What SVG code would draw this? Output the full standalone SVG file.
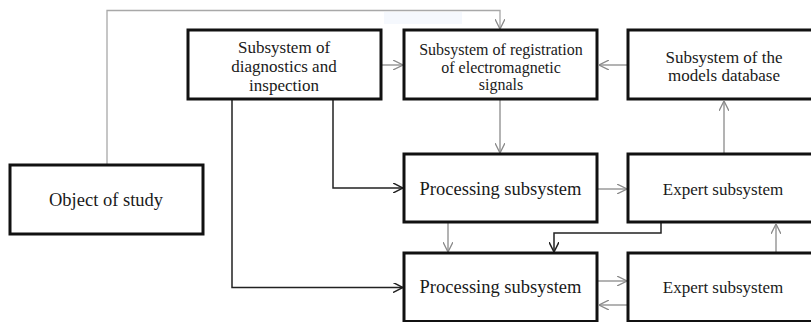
<svg xmlns="http://www.w3.org/2000/svg" width="811" height="322" viewBox="0 0 811 322">
  <style>
    .box { fill: #ffffff; stroke: #111111; stroke-width: 3; }
    .lbl { font-family: "Liberation Serif", "Times New Roman", serif; fill: #1a1a1a; text-anchor: middle; }
    .big { font-size: 18.5px; }
    .mid { font-size: 17px; }
    .sm { font-size: 16px; }
    .thin { fill: none; stroke: #8a8a8a; stroke-width: 1.3; }
    .faint { fill: none; stroke: #a8a8a8; stroke-width: 1.3; }
    .dark { fill: none; stroke: #222222; stroke-width: 1.5; }
  </style>
  <defs>
    <marker id="arrGray" viewBox="0 0 10 10" refX="10" refY="5" markerWidth="10" markerHeight="10" markerUnits="userSpaceOnUse" orient="auto">
      <path d="M0,0 L10,5 L0,10" fill="none" stroke="#8a8a8a" stroke-width="1.3"/>
    </marker>
    <marker id="arrDark" viewBox="0 0 10 10" refX="10" refY="5" markerWidth="10" markerHeight="10" markerUnits="userSpaceOnUse" orient="auto">
      <path d="M0,0 L10,5 L0,10" fill="none" stroke="#222222" stroke-width="1.5"/>
    </marker>
  </defs>

  <rect width="811" height="322" fill="#ffffff"/>

  <!-- faint highlight band near the top line -->
  <rect x="384" y="12" width="78" height="12" fill="#f5f8fd"/>

  <g id="connectors">
    <!-- object of study feeds the registration subsystem -->
    <path class="faint" d="M107,165 L107,10.5 L500,10.5 L500,29" marker-end="url(#arrGray)"/>
    <!-- diagnostics to registration -->
    <path class="thin" d="M382,65 L403,65" marker-end="url(#arrGray)"/>
    <!-- models database to registration -->
    <path class="thin" d="M627,65 L599,65" marker-end="url(#arrGray)"/>
    <!-- registration to processing -->
    <path class="thin" d="M500,100 L500,153" marker-end="url(#arrGray)"/>
    <!-- expert to models database -->
    <path class="thin" d="M724,153 L724,101" marker-end="url(#arrGray)"/>
    <!-- diagnostics to both processing subsystems -->
    <path class="dark" d="M333,100 L333,188 L403,188" marker-end="url(#arrDark)"/>
    <path class="dark" d="M232,100 L232,287.5 L403,287.5" marker-end="url(#arrDark)"/>
    <!-- processing to expert -->
    <path class="thin" d="M598,189 L627,189" marker-end="url(#arrGray)"/>
    <!-- processing to processing -->
    <path class="thin" d="M448,223 L448,252" marker-end="url(#arrGray)"/>
    <!-- expert back to lower processing -->
    <path class="dark" d="M661,223 L661,233 L554,233 L554,252" marker-end="url(#arrDark)"/>
    <!-- lower processing and lower expert exchange -->
    <path class="thin" d="M598,281 L627,281" marker-end="url(#arrGray)"/>
    <path class="thin" d="M627,305 L599,305" marker-end="url(#arrGray)"/>
    <!-- lower expert to upper expert -->
    <path class="thin" d="M776,252 L776,224" marker-end="url(#arrGray)"/>
  </g>

  <g id="diagnostics">
    <rect class="box" x="188" y="30" width="193" height="69"/>
    <text class="lbl mid" x="284" y="53">Subsystem of</text>
    <text class="lbl mid" x="284" y="72">diagnostics and</text>
    <text class="lbl mid" x="284" y="91">inspection</text>
  </g>

  <g id="registration">
    <rect class="box" x="404" y="30" width="193" height="69"/>
    <text class="lbl sm" x="501" y="55">Subsystem  of registration</text>
    <text class="lbl sm" x="501" y="72.5">of electromagnetic</text>
    <text class="lbl sm" x="501" y="90">signals</text>
  </g>

  <g id="models-database">
    <rect class="box" x="628" y="30" width="200" height="69"/>
    <text class="lbl mid" x="724" y="63">Subsystem of the</text>
    <text class="lbl mid" x="724" y="81">models database</text>
  </g>

  <g id="object-of-study">
    <rect class="box" x="10" y="165" width="193" height="69"/>
    <text class="lbl big" x="106" y="206">Object of study</text>
  </g>

  <g id="processing-1">
    <rect class="box" x="404" y="154" width="193" height="68"/>
    <text class="lbl big" x="500.5" y="195">Processing subsystem</text>
  </g>

  <g id="expert-1">
    <rect class="box" x="628" y="154" width="200" height="68"/>
    <text class="lbl mid" x="723" y="195">Expert subsystem</text>
  </g>

  <g id="processing-2">
    <rect class="box" x="404" y="253" width="193" height="68.5"/>
    <text class="lbl big" x="500.5" y="293">Processing subsystem</text>
  </g>

  <g id="expert-2">
    <rect class="box" x="628" y="253" width="200" height="68.5"/>
    <text class="lbl mid" x="723" y="293">Expert subsystem</text>
  </g>
</svg>
